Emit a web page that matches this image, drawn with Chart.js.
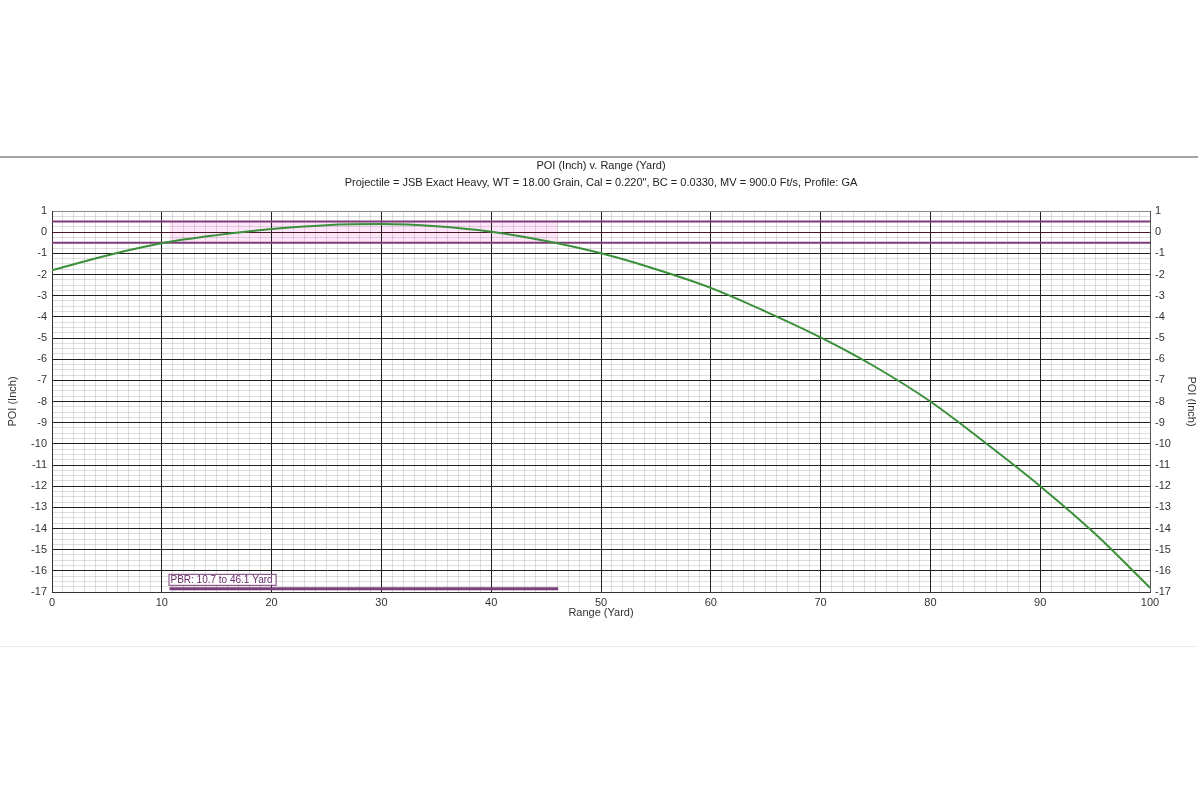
<!DOCTYPE html>
<html>
<head>
<meta charset="utf-8">
<title>POI (Inch) v. Range (Yard)</title>
<script src="https://cdn.jsdelivr.net/npm/chart.js@4/dist/chart.umd.min.js"></script>
<style>
  html, body { margin: 0; padding: 0; background: #fff; }
  #panel {
    position: absolute; left: 0; top: 156px; width: 1198px; height: 488px;
    border-top: 2px solid #a4a4a4; border-bottom: 1px solid #eeeeee;
  }
  #chart { position: absolute; left: 0; top: 0; }
</style>
</head>
<body>
<div id="panel"></div>
<canvas id="chart" width="1200" height="800"></canvas>
<script>
// ================= DATA =================
const rangeYards = [0, 5, 10, 15, 20, 25, 30, 35, 40, 45, 50, 55, 60, 65, 70, 75, 80, 85, 90, 95, 100];
const poiInches = [-1.80, -1.10, -0.52, -0.14, 0.15, 0.33, 0.38, 0.28, 0.02, -0.42, -1.00, -1.75, -2.63, -3.75, -4.97, -6.37, -8.00, -9.95, -12.00, -14.25, -16.80];

const xRange = [0, 100];
const yRange = [-17, 1];
const zoneLimits = [-0.5, 0.5];
const pbrYards = [10.7, 46.1];
const pbrBarLevel = -16.85;

const chartTitle = "POI (Inch) v. Range (Yard)";
const chartSubtitle = "Projectile = JSB Exact Heavy, WT = 18.00 Grain, Cal = 0.220\", BC = 0.0330, MV = 900.0 Ft/s, Profile: GA";
const pbrLabel = "PBR: 10.7 to 46.1 Yard";

const FONT = "'Liberation Sans', Arial, sans-serif";
const MINOR = "rgba(0, 0, 0, 0.13)";

// ================= PLUGINS =================
const pbrBand = {
  id: "pbrBand",
  beforeDraw(chart) {
    const { ctx, scales: { x, y } } = chart;
    const x0 = x.getPixelForValue(pbrYards[0]);
    const x1 = x.getPixelForValue(pbrYards[1]);
    const y0 = y.getPixelForValue(zoneLimits[1]);
    const y1 = y.getPixelForValue(zoneLimits[0]);
    ctx.save();
    ctx.fillStyle = "rgba(255, 190, 240, 0.4)";
    ctx.fillRect(x0, y0, x1 - x0, y1 - y0);
    ctx.restore();
  }
};

const texts = {
  id: "texts",
  afterDraw(chart) {
    const { ctx, chartArea, scales: { x, y } } = chart;
    const cx = (chartArea.left + chartArea.right) / 2;
    ctx.save();
    ctx.fillStyle = "#222";
    ctx.font = "11px " + FONT;
    ctx.textAlign = "center";
    ctx.textBaseline = "middle";
    ctx.fillText(chartTitle, cx, 166);
    ctx.fillText(chartSubtitle, cx, 183);

    // PBR label box
    ctx.font = "10px " + FONT;
    ctx.textAlign = "left";
    const lx = x.getPixelForValue(pbrYards[0]) + 1;
    const ly = y.getPixelForValue(pbrBarLevel) - 9;
    const w = ctx.measureText(pbrLabel).width + 5;
    ctx.fillStyle = "rgba(255,255,255,0.9)";
    ctx.fillRect(lx - 2, ly - 6, w, 11);
    ctx.strokeStyle = "#7a3e78";
    ctx.lineWidth = 1;
    ctx.strokeRect(lx - 2 + 0.5, ly - 6 + 0.5, w, 11);
    ctx.fillStyle = "#6a2e6a";
    ctx.fillText(pbrLabel, lx, ly);
    ctx.restore();
  }
};

// ================= CHART =================
function xGrid(c) {
  const v = c.tick ? c.tick.value : 0;
  return v % 10 === 0 ? "#222" : MINOR;
}

function yGrid(c) {
  const v = c.tick ? c.tick.value : 0;
  if (v === 0) return "#4a1525";
  if (v === 1) return "#888";
  return Number.isInteger(v) ? "#222" : MINOR;
}

const yTicks = {
  stepSize: 0.25,
  autoSkip: false,
  maxTicksLimit: 200,
  padding: 5,
  color: "#333",
  font: { family: FONT, size: 11 },
  callback: (v) => Number.isInteger(v) ? v : ""
};

new Chart(document.getElementById("chart"), {
  type: "line",
  data: {
    datasets: [
      {
        label: "POI",
        data: rangeYards.map((r, i) => ({ x: r, y: poiInches[i] })),
        borderColor: "#3a8f3a",
        borderWidth: 2,
        pointRadius: 0,
        cubicInterpolationMode: "monotone"
      },
      {
        label: "Zone top",
        data: xRange.map(r => ({ x: r, y: zoneLimits[1] })),
        borderColor: "#7c3c78",
        borderWidth: 2,
        pointRadius: 0
      },
      {
        label: "Zone bottom",
        data: xRange.map(r => ({ x: r, y: zoneLimits[0] })),
        borderColor: "#7c3c78",
        borderWidth: 2,
        pointRadius: 0
      },
      {
        label: "PBR",
        data: pbrYards.map(r => ({ x: r, y: pbrBarLevel })),
        borderColor: "#7a3e7a",
        borderWidth: 3,
        pointRadius: 0
      }
    ]
  },
  options: {
    responsive: false,
    animation: false,
    devicePixelRatio: 1,
    layout: { padding: { top: 211, bottom: 178, left: 0, right: 0 } },
    plugins: {
      legend: { display: false },
      tooltip: { enabled: false }
    },
    scales: {
      x: {
        type: "linear",
        min: xRange[0],
        max: xRange[1],
        afterFit: (s) => { s.height = 30; },
        ticks: {
          stepSize: 1,
          autoSkip: false,
          maxTicksLimit: 200,
          maxRotation: 0,
          padding: 4,
          color: "#333",
          font: { family: FONT, size: 11 },
          callback: (v) => v % 10 === 0 ? v : ""
        },
        grid: { color: xGrid, drawTicks: false, lineWidth: 1 },
        border: { color: "#333" },
        title: {
          display: true,
          text: "Range (Yard)",
          color: "#333",
          font: { family: FONT, size: 11 },
          padding: { top: 0, bottom: 2 }
        }
      },
      y: {
        type: "linear",
        position: "left",
        min: yRange[0],
        max: yRange[1],
        afterFit: (s) => { s.width = 52; },
        ticks: yTicks,
        grid: { color: yGrid, drawTicks: false, lineWidth: 1 },
        border: { color: "#333" },
        title: {
          display: true,
          text: "POI (Inch)",
          color: "#333",
          font: { family: FONT, size: 11 },
          padding: { top: 6, bottom: 0 }
        }
      },
      y2: {
        type: "linear",
        position: "right",
        min: yRange[0],
        max: yRange[1],
        afterFit: (s) => { s.width = 50; },
        ticks: yTicks,
        grid: { display: false, drawTicks: false },
        border: { color: "#555" },
        title: {
          display: true,
          text: "POI (Inch)",
          color: "#333",
          font: { family: FONT, size: 11 },
          padding: { top: 2, bottom: 0 }
        }
      }
    }
  },
  plugins: [pbrBand, texts]
});
</script>
</body>
</html>
